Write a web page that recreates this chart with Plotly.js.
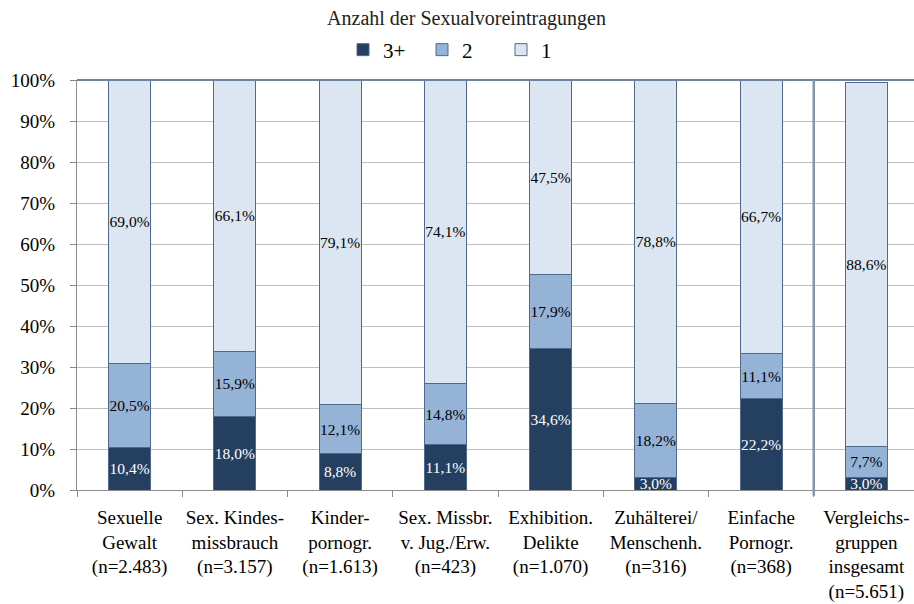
<!DOCTYPE html>
<html>
<head>
<meta charset="utf-8">
<script src="https://cdn.plot.ly/plotly-3.0.1.min.js"></script>
<style>
html,body{margin:0;padding:0;overflow:hidden;background:#fff;}
</style>
</head>
<body>
<div id="chart" style="width:919px;height:604px;"></div>
<script>
const categories = [
  "Sexuelle<br>Gewalt<br>(n=2.483)",
  "Sex. Kindes-<br>missbrauch<br>(n=3.157)",
  "Kinder-<br>pornogr.<br>(n=1.613)",
  "Sex. Missbr.<br>v. Jug./Erw.<br>(n=423)",
  "Exhibition.<br>Delikte<br>(n=1.070)",
  "Zuhälterei/<br>Menschenh.<br>(n=316)",
  "Einfache<br>Pornogr.<br>(n=368)",
  "Vergleichs-<br>gruppen<br>insgesamt<br>(n=5.651)"
];
const vals3plus = [10.4, 18.0, 8.8, 11.1, 34.6, 3.0, 22.2, 3.0];
const vals2     = [20.5, 15.9, 12.1, 14.8, 17.9, 18.2, 11.1, 7.7];
const vals1     = [69.0, 66.1, 79.1, 74.1, 47.5, 78.8, 66.7, 88.6];
const yTickVals = [0, 10, 20, 30, 40, 50, 60, 70, 80, 90, 100];
const yTickText = ["0%", "10%", "20%", "30%", "40%", "50%", "60%", "70%", "80%", "90%", "100%"];

const serif = "Liberation Serif";
const lineCol = "#4F6A8C";

function trace(name, y, fill, textCol) {
  return {
    type: "bar", name: name, x: categories, y: y,
    width: 0.4,
    marker: {color: fill, line: {color: lineCol, width: 1}},
    texttemplate: "%{y:.1f}%",
    textposition: "inside",
    insidetextanchor: "middle",
    constraintext: "none",
    textangle: 0,
    textfont: {family: serif, size: 15.5, color: textCol},
    hoverinfo: "skip"
  };
}

const data = [
  trace("3+", vals3plus, "#243F60", "#ffffff"),
  trace("2", vals2, "#95B3D7", "#000000"),
  trace("1", vals1, "#DCE6F2", "#000000")
];

const layout = {
  width: 919, height: 604,
  margin: {l: 77, r: 0, t: 80, b: 114},
  barmode: "stack",
  separators: ",.",
  paper_bgcolor: "#ffffff", plot_bgcolor: "#ffffff",
  font: {family: serif, color: "#000"},
  uniformtext: {mode: "show", minsize: 15.5},
  title: {text: "Anzahl der Sexualvoreintragungen", font: {family: serif, size: 20, color: "#222"},
          x: 466.5/919, xref: "container", xanchor: "center", y: 1 - 18/604, yref: "container", yanchor: "middle"},
  showlegend: true,
  legend: {orientation: "h", x: (357 - 77 - 14)/842, xanchor: "left", y: 1 + 30/410, yanchor: "middle",
           font: {family: serif, size: 21, color: "#000"}, entrywidth: 34, entrywidthmode: "pixels",
           traceorder: "normal", itemclick: false},
  xaxis: {
    type: "category", tickson: "boundaries", ticks: "outside", ticklen: 6, tickcolor: "#888",
    showgrid: false, showline: true, linecolor: "#8C8C8C", linewidth: 1,
    tickangle: 0,
    tickfont: {family: serif, size: 19, color: "#000"}, ticklabelstandoff: 10,
    range: [-0.5, 7.5], fixedrange: true
  },
  yaxis: {
    range: [0, 100], tickvals: yTickVals, ticktext: yTickText,
    ticks: "outside", ticklen: 6, tickcolor: "#888",
    showgrid: true, gridcolor: "#BEBEBE", gridwidth: 1,
    showline: true, linecolor: "#8C8C8C", linewidth: 1,
    zeroline: false, ticklabelstandoff: 11,
    tickfont: {family: serif, size: 19, color: "#000"},
    fixedrange: true
  },
  shapes: [
    {type: "line", xref: "paper", yref: "paper", x0: 0, x1: 1, y0: 1, y1: 1,
     line: {color: "#6F839D", width: 2}},
    {type: "line", xref: "x", yref: "paper", x0: 6.5, x1: 6.5, y0: -0.014, y1: 1,
     line: {color: "#8496AE", width: 2.5}}
  ]
};

Plotly.newPlot("chart", data, layout, {displayModeBar: false, staticPlot: true});
</script>
</body>
</html>
